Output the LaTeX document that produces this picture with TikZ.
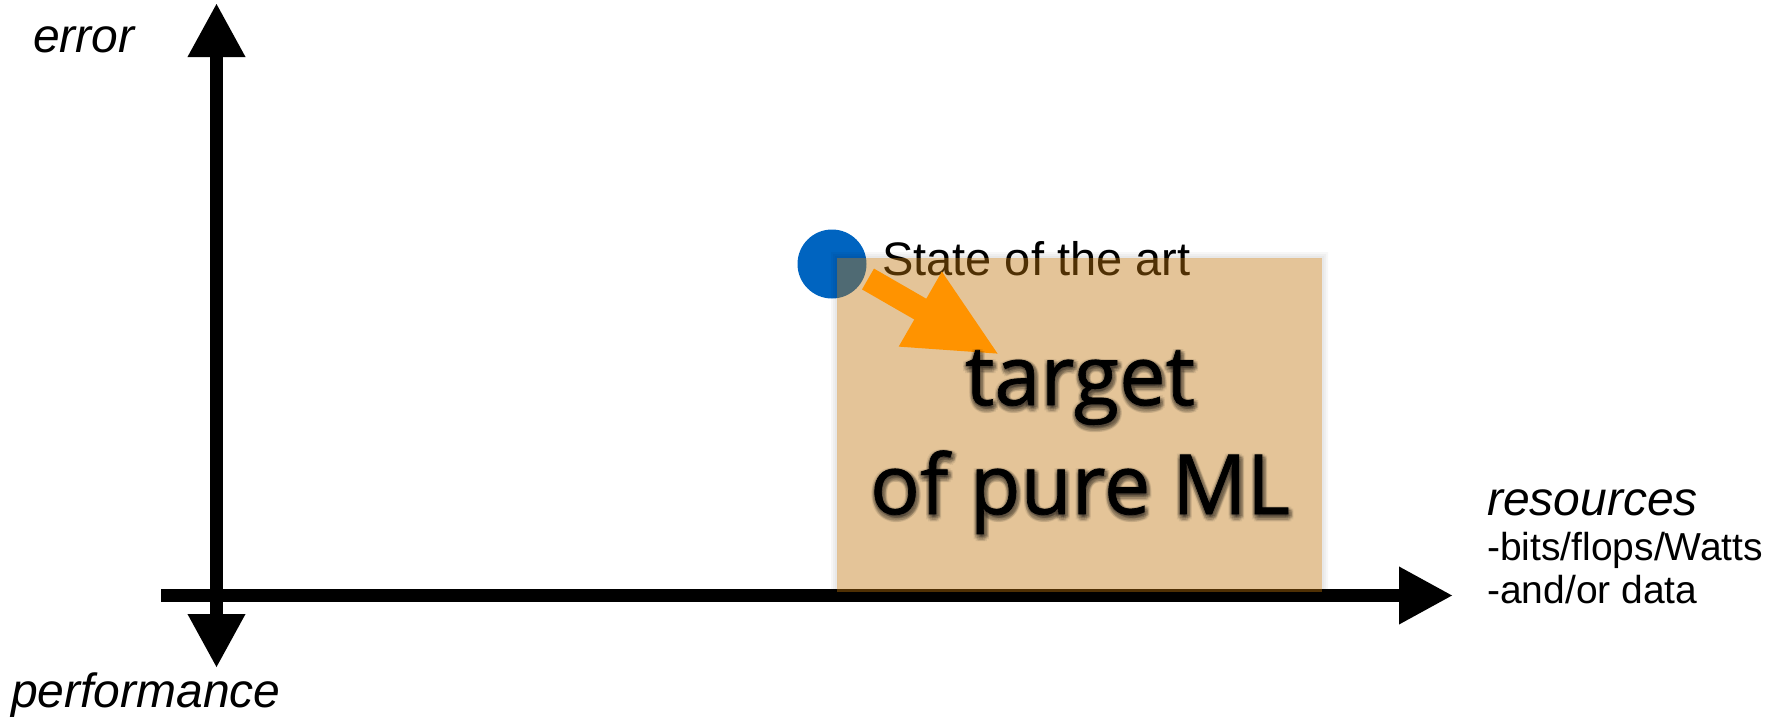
\documentclass[tikz,border=0pt]{standalone}
\usepackage{fontspec}
\setmainfont{Liberation Sans}
\newfontfamily\gillish{Open Sans}
\usetikzlibrary{arrows.meta}
\definecolor{soablue}{RGB}{0,100,192}
\definecolor{targettan}{RGB}{190,115,10}
\definecolor{pushorange}{RGB}{255,147,0}
\tikzset{
  axishead/.tip={Triangle[length=54pt,width=54pt]},
  pushhead/.tip={Triangle[length=92pt,width=79pt]},
}
\begin{document}
\begin{tikzpicture}[x=1pt,y=-1pt,
  axis/.style={line width=13pt, draw=black},
  lbl/.style={anchor=base west, inner sep=0pt, font=\fontsize{48}{58}\selectfont\itshape},
  sublbl/.style={anchor=base west, inner sep=0pt, font=\fontsize{39}{47}\selectfont},
  soalbl/.style={anchor=base west, inner sep=0pt, font=\fontsize{47}{56}\selectfont},
  big/.style={anchor=base, inner sep=0pt,
    font=\gillish\fontsize{83}{100}\selectfont\addfontfeature{FakeBold=0.8}},
  bighalo/.style={anchor=base, inner sep=0pt, text=black, text opacity=0.07,
    font=\gillish\fontsize{83}{100}\selectfont\addfontfeature{FakeBold=3}},
  dot/.style={circle, inner sep=0pt, minimum size=69pt, fill=soablue},
  zone/.style={fill=targettan, fill opacity=0.42},
  zoneshadow/.style={fill=black, fill opacity=0.03, even odd rule},
  push/.style={line width=24pt, draw=pushorange, -{pushhead}},
]
\useasboundingbox (0,0) rectangle (1783,720);

% axes
\coordinate (ytop) at (216.5,3);
\coordinate (ybot) at (216.5,668);
\coordinate (xleft) at (161,595.5);
\coordinate (xright) at (1453,595.5);
\draw[axis, {axishead}-{axishead}] (ybot) -- (ytop);
\draw[axis, -{axishead}] (xleft) -- (xright);

% axis labels
\node[lbl] (err) at (33,52) {error};
\node[lbl] (perf) at (11,707) {performance};
\node[lbl] (res) at (1487,515) {resources};
\node[sublbl] (bits) at (1487,560) {-bits/flops/Watts};
\node[sublbl] (data) at (1487,603) {-and/or data};

% current position
\node[dot] (soa) at (832,264) {};
\node[soalbl] (soatext) at (882,275) {State of the art};

% translucent target region with a faint outer shadow
\foreach \g in {2,4,6}
  \path[zoneshadow] (837-\g,258-\g) rectangle (1322+\g,592+\g)
                    (837,258) rectangle (1322,592);
\path[zone] (837,258) rectangle (1322,592);
\coordinate (zone) at (1079.5,425);

% push towards the target
\coordinate (pushstart) at (868,279);
\coordinate (pushtip) at (1000,355);
\draw[push] (pushstart) -- (pushtip);

% target caption with a soft dark halo (stacked offset copies)
\foreach \dx/\dy [count=\i] in {0/1,2/1,4/1,6/3,0/5,2/7,4/7,6/5,3/4,1/3,5/3}{
  \node[bighalo] (haloA\i) at (1078+\dx,404+\dy) {target};
  \node[bighalo] (haloB\i) at (1078+\dx,513+\dy) {of pure ML};
}
\node[big] (target1) at (1080,405) {target};
\node[big] (target2) at (1080,514) {of pure ML};
\end{tikzpicture}
\end{document}
